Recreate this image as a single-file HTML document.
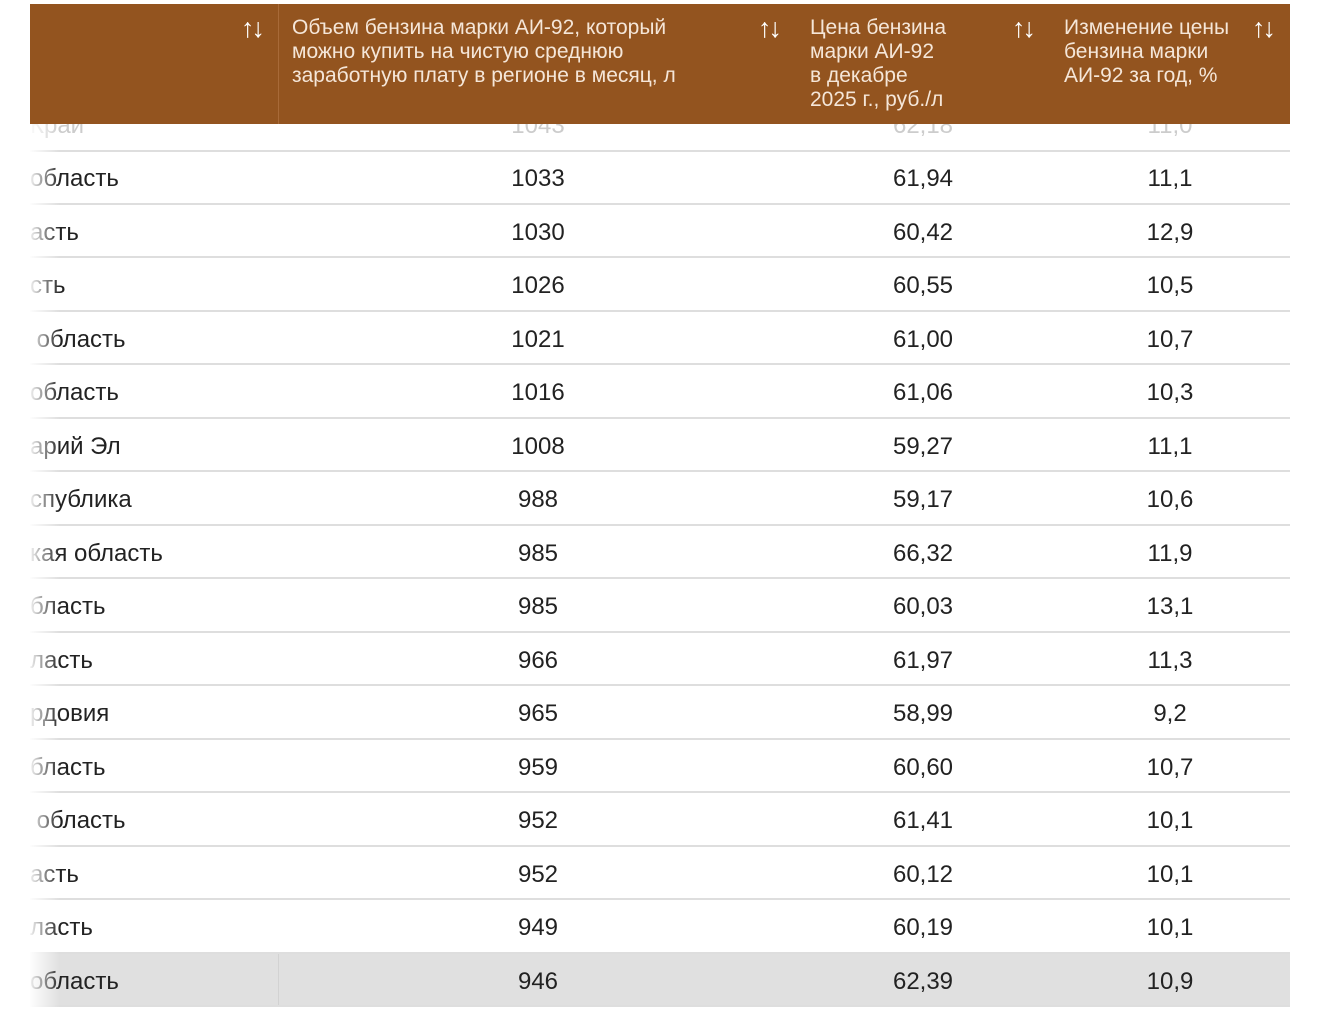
<!DOCTYPE html>
<html><head><meta charset="utf-8"><style>
body{margin:0;width:1320px;height:1018px;background:#fff;overflow:hidden;font-family:"Liberation Sans Narrow","Liberation Sans",sans-serif;position:relative}
.row{position:absolute;left:30px;width:1260px;height:53.5px;border-bottom:2px solid #dedede;box-sizing:border-box;font-size:24px;color:#222}
.row div{position:absolute;top:0;line-height:55px}
.c0{left:0;width:248px;overflow:hidden;white-space:nowrap}
.c1{left:438px;width:140px;text-align:center}
.c2{left:823px;width:140px;text-align:center}
.c3{left:1070px;width:140px;text-align:center}
.hl{background:#e0e0e0}
.hl:before{content:"";position:absolute;left:248px;top:0;bottom:0;border-left:1px solid #d2d2d2}
.hdr{position:absolute;left:30px;top:4px;width:1260px;height:120px;background:#93541f;color:#f5e6d8;font-size:21px;line-height:24px}
.hdr .t{position:absolute;top:12px}
.hdr .s{position:absolute;top:12px;font-size:27px;color:#fff;letter-spacing:-3px}
.fade{position:absolute;left:30px;top:124px;width:30px;height:894px;background:linear-gradient(to right,rgba(255,255,255,.95),rgba(255,255,255,0))}
.first{color:#ccc}
</style></head><body>
<div class="row first" style="top:98px"><div class="c0">Край</div><div class="c1">1043</div><div class="c2">62,18</div><div class="c3">11,0</div></div>
<div class="row" style="top:151px"><div class="c0">область</div><div class="c1">1033</div><div class="c2">61,94</div><div class="c3">11,1</div></div>
<div class="row" style="top:204.5px"><div class="c0">асть</div><div class="c1">1030</div><div class="c2">60,42</div><div class="c3">12,9</div></div>
<div class="row" style="top:258px"><div class="c0">сть</div><div class="c1">1026</div><div class="c2">60,55</div><div class="c3">10,5</div></div>
<div class="row" style="top:311.5px"><div class="c0">&nbsp;область</div><div class="c1">1021</div><div class="c2">61,00</div><div class="c3">10,7</div></div>
<div class="row" style="top:365px"><div class="c0">область</div><div class="c1">1016</div><div class="c2">61,06</div><div class="c3">10,3</div></div>
<div class="row" style="top:418.5px"><div class="c0">арий Эл</div><div class="c1">1008</div><div class="c2">59,27</div><div class="c3">11,1</div></div>
<div class="row" style="top:472px"><div class="c0">спублика</div><div class="c1">988</div><div class="c2">59,17</div><div class="c3">10,6</div></div>
<div class="row" style="top:525.5px"><div class="c0">кая область</div><div class="c1">985</div><div class="c2">66,32</div><div class="c3">11,9</div></div>
<div class="row" style="top:579px"><div class="c0">бласть</div><div class="c1">985</div><div class="c2">60,03</div><div class="c3">13,1</div></div>
<div class="row" style="top:632.5px"><div class="c0">ласть</div><div class="c1">966</div><div class="c2">61,97</div><div class="c3">11,3</div></div>
<div class="row" style="top:686px"><div class="c0">рдовия</div><div class="c1">965</div><div class="c2">58,99</div><div class="c3">9,2</div></div>
<div class="row" style="top:739.5px"><div class="c0">бласть</div><div class="c1">959</div><div class="c2">60,60</div><div class="c3">10,7</div></div>
<div class="row" style="top:793px"><div class="c0">&nbsp;область</div><div class="c1">952</div><div class="c2">61,41</div><div class="c3">10,1</div></div>
<div class="row" style="top:846.5px"><div class="c0">асть</div><div class="c1">952</div><div class="c2">60,12</div><div class="c3">10,1</div></div>
<div class="row" style="top:900px"><div class="c0">ласть</div><div class="c1">949</div><div class="c2">60,19</div><div class="c3">10,1</div></div>
<div class="row hl" style="top:953.5px"><div class="c0">область</div><div class="c1">946</div><div class="c2">62,39</div><div class="c3">10,9</div></div>
<div class="fade"></div>
<div class="hdr">
<div style="position:absolute;left:248px;top:0;bottom:0;border-left:1px solid #a86a38"></div>
<div class="s" style="left:211px">↑↓</div>
<div class="t" style="left:262px">Объем бензина марки АИ-92, который<br>можно купить на чистую среднюю<br>заработную плату в регионе в месяц, л</div>
<div class="s" style="left:728px">↑↓</div>
<div class="t" style="left:780px">Цена бензина<br>марки АИ-92<br>в декабре<br>2025 г., руб./л</div>
<div class="s" style="left:982px">↑↓</div>
<div class="t" style="left:1034px">Изменение цены<br>бензина марки<br>АИ-92 за год, %</div>
<div class="s" style="left:1222px">↑↓</div>
</div>
</body></html>
